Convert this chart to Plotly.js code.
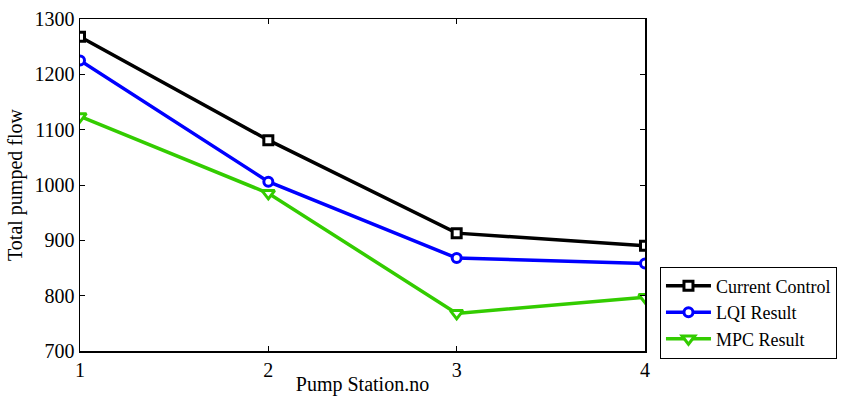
<!DOCTYPE html>
<html><head><meta charset="utf-8">
<script src="https://cdn.plot.ly/plotly-3.0.1.min.js"></script>
<style>html,body{margin:0;padding:0;background:#fff}#c{width:848px;height:396px}</style>
</head><body><div id="c"></div>
<script>
const stations = [1, 2, 3, 4];
const currentControl = [1268, 1081, 913, 890];
const lqiResult = [1225, 1006, 868, 858];
const mpcResult = [1124, 985, 768, 797];
const seriesNames = ['Current Control', 'LQI Result', 'MPC Result'];

function tr(y, name, color, symbol, size) {
  return {x: stations, y: y, name: name, type: 'scatter', mode: 'lines+markers',
    line: {color: color, width: 3.5},
    marker: {symbol: symbol, size: size, color: '#fff', line: {color: color, width: 3}}};
}
const data = [
  tr(currentControl, seriesNames[0], '#000000', 'square', 9),
  tr(lqiResult, seriesNames[1], '#0000ff', 'circle', 9),
  tr(mpcResult, seriesNames[2], '#33cc00', 'triangle-down', 11)
];
const font = {family: 'Liberation Serif', size: 20, color: '#000'};
const legFont = {family: 'Liberation Serif', size: 18, color: '#000'};
const layout = {
  width: 848, height: 396,
  margin: {l: 80, r: 203, t: 19, b: 45, autoexpand: false},
  paper_bgcolor: '#fff', plot_bgcolor: '#fff',
  font: font, showlegend: true,
  xaxis: {range: [1, 4], tickvals: stations, ticks: 'inside', ticklen: 5, tickcolor: '#000',
    showline: true, mirror: 'ticks', linecolor: '#000', linewidth: 1.5, showgrid: false, zeroline: false,
    tickfont: font, title: {text: 'Pump Station.no', font: font, standoff: 4}},
  yaxis: {range: [700, 1300], dtick: 100, ticks: 'inside', ticklen: 5, tickcolor: '#000',
    showline: true, mirror: 'ticks', linecolor: '#000', linewidth: 1.5, showgrid: false, zeroline: false,
    tickfont: font, title: {text: 'Total pumped flow', font: font, standoff: 6}},
  legend: {x: 1.0265, xanchor: 'left', y: 0.254, yanchor: 'top', bordercolor: '#000', borderwidth: 1,
    bgcolor: '#fff', font: legFont, tracegroupgap: 0, itemwidth: 45}
};
Plotly.newPlot('c', data, layout, {displayModeBar: false, staticPlot: true});
</script></body></html>
